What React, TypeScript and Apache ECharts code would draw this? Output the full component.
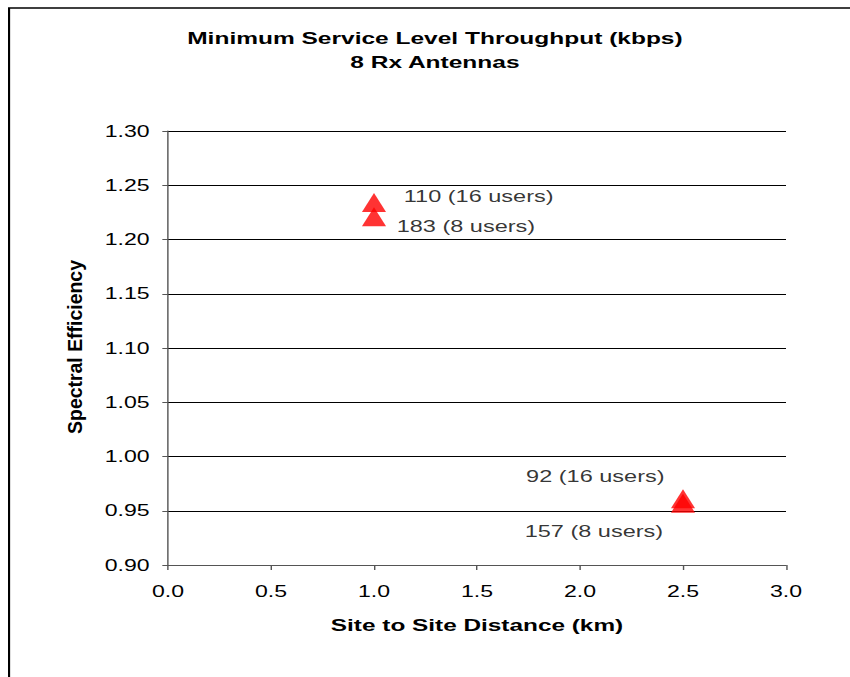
import React, { useEffect, useRef } from "react";
import * as echarts from "echarts";

const xValues = [1.0, 1.0, 2.5, 2.5];
const yValues = [1.234, 1.221, 0.961, 0.957];
const pointLabels = ["110 (16 users)", "183 (8 users)", "92 (16 users)", "157 (8 users)"];
const xTicks = [0, 0.5, 1.0, 1.5, 2.0, 2.5, 3.0];
const yTicks = [0.9, 0.95, 1.0, 1.05, 1.1, 1.15, 1.2, 1.25, 1.3];

const labelStyles = [
  { align: "left", offset: [21, -6] },
  { align: "left", offset: [16, 10] },
  { align: "right", offset: [-13, -23] },
  { align: "right", offset: [-14, 28] },
];

const STRETCH = 850 / 600;

export default function App() {
  const ref = useRef<HTMLDivElement>(null);
  useEffect(() => {
    document.body.style.margin = "0";
    const chart = echarts.init(ref.current!, null, { renderer: "svg" });
    const font = "'Liberation Sans', Arial, sans-serif";
    chart.setOption({
      animation: false,
      backgroundColor: "#ffffff",
      textStyle: { fontFamily: font },
      title: {
        text: "Minimum Service Level Throughput (kbps)\n8 Rx Antennas",
        left: 302,
        textAlign: "center",
        top: 21,
        textStyle: { fontSize: 17.3, fontWeight: "bold", color: "#000", lineHeight: 24, fontFamily: font },
      },
      graphic: [
        {
          type: "rect",
          shape: { x: 6.4, y: 8, width: 1000, height: 1000 },
          style: { fill: "none", stroke: "#000", lineWidth: 1.5 },
          silent: true,
        },
        {
          type: "text",
          x: 53,
          y: 347,
          rotation: Math.PI / 2,
          scaleX: 1.39,
          style: {
            text: "Spectral Efficiency",
            fontSize: 14,
            fontWeight: "bold",
            fontFamily: font,
            fill: "#000",
            align: "center",
            verticalAlign: "middle",
          },
          silent: true,
        },
      ],
      grid: { left: 168 / STRETCH, right: 64 / STRETCH, top: 131, bottom: 112 },
      xAxis: {
        type: "value",
        min: 0,
        max: 3,
        interval: 0.5,
        name: "Site to Site Distance (km)",
        nameLocation: "middle",
        nameGap: 51,
        nameTextStyle: { fontSize: 17.2, fontWeight: "bold", color: "#000", fontFamily: font },
        axisLine: { show: true, lineStyle: { color: "#555", width: 1 } },
        axisTick: { show: true, length: 5, lineStyle: { color: "#555" } },
        axisLabel: {
          fontSize: 16.3,
          color: "#000",
          margin: 18,
          formatter: (v: number) => (xTicks.some((t) => Math.abs(t - v) < 1e-6) ? v.toFixed(1) : ""),
        },
        splitLine: { show: false },
      },
      yAxis: {
        type: "value",
        min: 0.9,
        max: 1.3,
        interval: 0.05,
        axisLine: { show: true, lineStyle: { color: "#555", width: 1 } },
        axisTick: { show: true, length: 4, lineStyle: { color: "#555" } },
        axisLabel: {
          fontSize: 16.3,
          color: "#000",
          margin: 13,
          formatter: (v: number) => {
            const t = yTicks.find((y) => Math.abs(y - v) < 1e-6);
            return t !== undefined ? t.toFixed(2) : "";
          },
        },
        splitLine: { show: true, lineStyle: { color: "#000", width: 1 } },
      },
      series: [
        {
          type: "scatter",
          symbol: "triangle",
          symbolSize: [17, 19],
          itemStyle: { color: "#ff0000" },
          data: xValues.map((x, i) => ({
            value: [x, yValues[i]],
            label: {
              show: true,
              position: "inside",
              align: labelStyles[i].align,
              verticalAlign: "middle",
              offset: labelStyles[i].offset,
              formatter: pointLabels[i],
              fontSize: 16.6,
              color: "#000",
              fontFamily: font,
            },
          })),
        },
      ],
    });
    return () => chart.dispose();
  }, []);
  return (
    <div style={{ width: 850, height: 677, position: "absolute", left: 0, top: 0, overflow: "hidden" }}>
      <div
        ref={ref}
        style={{
          width: 600,
          height: 677,
          transform: `scaleX(${STRETCH})`,
          transformOrigin: "0 0",
        }}
      />
    </div>
  );
}
